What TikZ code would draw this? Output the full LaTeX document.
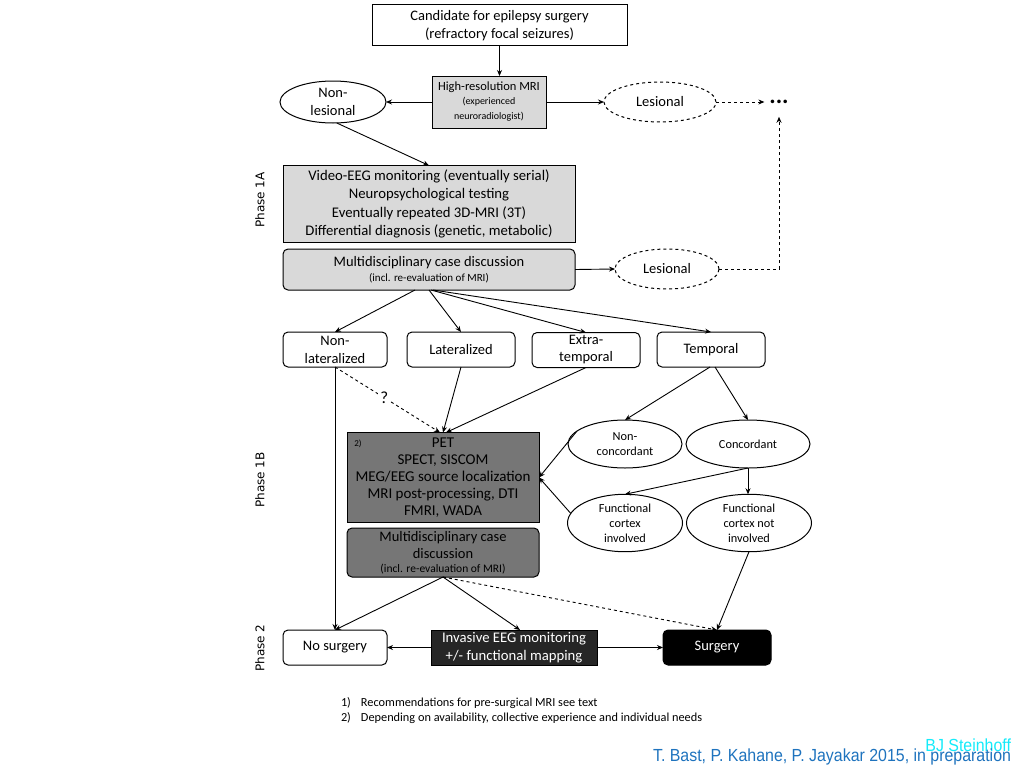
\documentclass[tikz,border=0pt]{standalone}
\usepackage{xcolor}
\usepackage{fontspec}
\setmainfont{Carlito}
\newfontfamily\phasefont{DejaVu Sans}
\newfontfamily\citefont[FakeStretch=0.91]{Liberation Sans}
\usepackage{tikz}
\usetikzlibrary{arrows.meta,shapes.geometric}

\definecolor{boxlight}{RGB}{217,217,217}
\definecolor{boxdark}{RGB}{118,118,118}
\definecolor{boxblack}{RGB}{38,38,38}
\definecolor{citeblue}{RGB}{30,115,190}
\definecolor{citecyan}{RGB}{20,235,250}

\begin{document}
\begin{tikzpicture}[x=1pt,y=-1pt,
  every node/.style={inner sep=1pt,outer sep=0pt,align=center,font=\fontsize{14.5}{18}\selectfont},
  plainbox/.style={draw=black,line width=1pt,fill=white},
  greybox/.style={plainbox,fill=boxlight},
  darkbox/.style={plainbox,fill=boxdark},
  roundbox/.style={plainbox,rounded corners=5pt},
  oval/.style={ellipse,draw=black,line width=1pt,fill=white},
  dashoval/.style={oval,dashed},
  smalloval/.style={oval,font=\fontsize{12.3}{15}\selectfont},
  phaselabel/.style={rotate=90,font=\phasefont\fontsize{12}{14}\selectfont},
  footnote/.style={anchor=base west,font=\fontsize{12.3}{14}\selectfont},
  flow/.style={-{Stealth[length=6pt,width=5pt]},line width=0.9pt},
  dashflow/.style={flow,dashed}]
\path[use as bounding box] (0,0) rectangle (1024,768);
\path[fill=white,draw=none] (0,0) rectangle (1024,768);

% phase 1A
\node[plainbox,minimum width=255pt,minimum height=41pt] (cand) at (499.5,25.5) {Candidate for epilepsy surgery\\(refractory focal seizures)};
\node[greybox,minimum width=114pt,minimum height=52pt,font=\fontsize{12.5}{15}\selectfont] (mri) at (489,102) {High-resolution MRI\\[-1pt]\fontsize{10}{12}\selectfont (experienced\\\fontsize{10}{12}\selectfont neuroradiologist)};
\node[oval,minimum width=106pt,minimum height=42pt] (nonles) at (333,102) {Non-\\lesional};
\node[dashoval,minimum width=112pt,minimum height=40pt] (les1) at (660,102) {Lesional};
\node[font=\bfseries\fontsize{24}{24}\selectfont] (dots) at (779,102) {...};
\node[greybox,minimum width=292pt,minimum height=77pt,font=\fontsize{14.7}{18.5}\selectfont] (veeg) at (429,204) {Video-EEG monitoring (eventually serial)\\Neuropsychological testing\\Eventually repeated 3D-MRI (3T)\\Differential diagnosis (genetic, metabolic)};
\node[greybox,rounded corners=5pt,minimum width=292pt,minimum height=41pt] (mdc) at (429,269.5) {Multidisciplinary case discussion\\[-3pt]\fontsize{11}{13}\selectfont (incl. re-evaluation of MRI)};
\node[dashoval,minimum width=104pt,minimum height=40pt] (les2) at (667,269) {Lesional};
\node[phaselabel] (ph1a) at (260,200) {Phase 1A};

\draw[flow] (cand.south) -- (cand.south |- mri.north);
\draw[flow] (mri.west) -- (nonles.east);
\draw[flow] (mri.east) -- (les1.west);
\draw[dashflow] (les1.east) -- ([xshift=-4pt]dots.west);
\draw[flow] (nonles.-80) -- (veeg.north);
\draw[flow] (mdc.east) -- (les2.west);
\draw[dashflow] (les2.east) -| ([yshift=-12pt]dots.south);

% localisation
\node[roundbox,minimum width=104pt,minimum height=35pt] (nonlat) at (335,349.5) {Non-\\lateralized};
\node[roundbox,minimum width=108pt,minimum height=35pt] (lat) at (461,349.5) {Lateralized};
\node[roundbox,minimum width=108pt,minimum height=35pt,font=\fontsize{14.5}{17}\selectfont] (extra) at (586,350) {Extra-\\temporal};
\node[roundbox,minimum width=108pt,minimum height=35pt] (temp) at (711,349.5) {Temporal};

\draw[flow] ([xshift=-14pt]mdc.south) -- (nonlat.north);
\draw[flow] (mdc.south) -- (lat.north);
\draw[flow] ([xshift=2pt]mdc.south) -- (extra.north);
\draw[flow] ([xshift=4pt]mdc.south) -- (temp.north);

% phase 1B
\node[darkbox,minimum width=192pt,minimum height=90pt,font=\fontsize{15}{17}\selectfont] (pet) at (443,477.5) {PET\\SPECT, SISCOM\\MEG/EEG source localization\\MRI post-processing, DTI\\FMRI, WADA};
\node[font=\fontsize{9}{10}\selectfont] (note2) at (358,444) {2)};
\node[darkbox,rounded corners=5pt,minimum width=192pt,minimum height=49pt] (mdc2) at (443,552.5) {Multidisciplinary case\\[-1pt]discussion\\[-4pt]\fontsize{11.5}{13}\selectfont (incl. re-evaluation of MRI)};
\node[smalloval,minimum width=114pt,minimum height=48pt] (noncon) at (625,444) {Non-\\concordant};
\node[smalloval,minimum width=124pt,minimum height=48pt] (concord) at (748,444) {Concordant};
\node[smalloval,minimum width=115pt,minimum height=52pt] (fci) at (625,523) {Functional\\cortex\\involved};
\node[smalloval,minimum width=125pt,minimum height=52pt] (fcni) at (749,523) {Functional\\cortex not\\involved};
\node[phaselabel] (ph1b) at (260,480) {Phase 1B};

\draw[dashflow] (nonlat.south) -- node[fill=white,inner sep=2pt,font=\fontsize{17}{18}\selectfont,pos=0.47] (quest) {?} ([xshift=-3pt]pet.north);
\draw[flow] (lat.south) -- (pet.north);
\draw[flow] (extra.south) -- ([xshift=3pt]pet.north);
\draw[flow] ([xshift=-1pt]temp.south) -- (noncon.north);
\draw[flow] ([xshift=4pt]temp.south) -- (concord.north);
\draw[flow] (noncon.165) -- (pet.east);
\draw[flow] (fci.170) -- (pet.east);
\draw[flow] (concord.south) -- (fci.north);
\draw[flow] (concord.south) -- (concord.south |- fcni.north);

% phase 2
\node[roundbox,minimum width=104pt,minimum height=35pt] (nosurg) at (335,647.5) {No surgery};
\node[plainbox,fill=boxblack,text=white,minimum width=166pt,minimum height=35pt,font=\fontsize{14.7}{18}\selectfont] (invasive) at (514,647.5) {Invasive EEG monitoring\\+/- functional mapping};
\node[roundbox,fill=black,text=white,minimum width=108pt,minimum height=35pt] (surg) at (717,647.5) {Surgery};
\node[phaselabel] (ph2) at (260,648) {Phase 2};

\draw[flow] (nonlat.south) -- (nosurg.north);
\draw[flow] (fcni.south) -- (surg.north);
\draw[flow] (mdc2.south) -- (nosurg.north);
\draw[flow] (mdc2.south) -- ([xshift=6pt]invasive.north);
\draw[dashflow] (mdc2.south) -- (surg.north);
\draw[flow] (invasive.west) -- (nosurg.east);
\draw[flow] (invasive.east) -- (surg.west);

% notes
\node[footnote] (fn1) at (340,706) {\makebox[20pt][l]{1)}Recommendations for pre-surgical MRI see text};
\node[footnote] (fn2) at (340,721) {\makebox[20pt][l]{2)}Depending on availability, collective experience and individual needs};
\node[anchor=base east,text=citecyan,font=\citefont\fontsize{17.5}{19}\selectfont] (author) at (1012,751) {BJ Steinhoff};
\node[anchor=base east,text=citeblue,font=\citefont\fontsize{17.5}{19}\selectfont] (cite) at (1012,761) {T. Bast, P. Kahane, P. Jayakar 2015, in preparation};
\end{tikzpicture}
\end{document}
